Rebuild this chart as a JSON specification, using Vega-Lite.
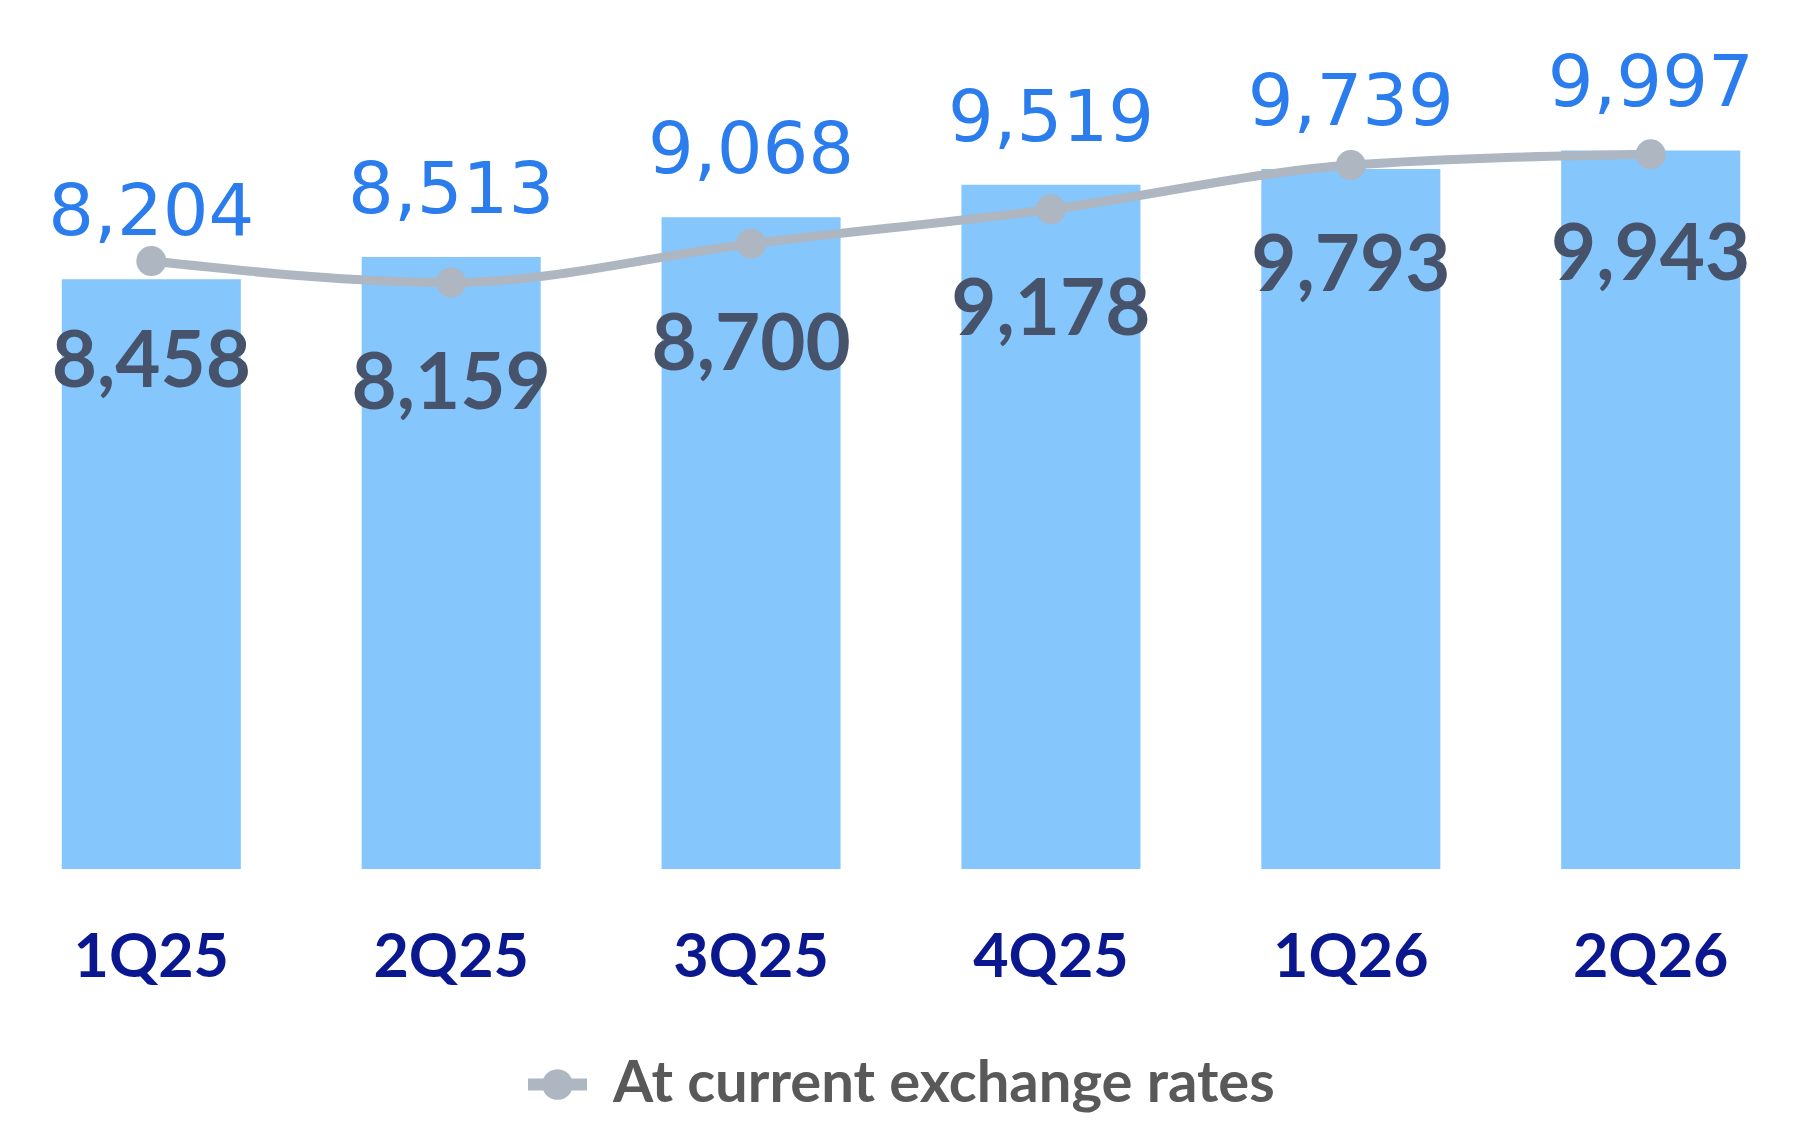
{
  "$schema": "https://vega.github.io/schema/vega-lite/v6.json",
  "width": 1778,
  "height": 869,
  "autosize": {"type": "none"},
  "padding": {"left": 12, "right": 10, "top": 0, "bottom": 259},
  "background": "white",
  "config": {"view": {"stroke": null}},
  "data": {
    "values": [
      {"quarter": "1Q25", "current": 8204, "constant": 8458},
      {"quarter": "2Q25", "current": 8513, "constant": 8159},
      {"quarter": "3Q25", "current": 9068, "constant": 8700},
      {"quarter": "4Q25", "current": 9519, "constant": 9178},
      {"quarter": "1Q26", "current": 9739, "constant": 9793},
      {"quarter": "2Q26", "current": 9997, "constant": 9943}
    ]
  },
  "encoding": {
    "x": {
      "field": "quarter",
      "type": "nominal",
      "sort": null,
      "scale": {"paddingInner": 0.403, "paddingOuter": 0.166},
      "axis": {
        "title": null,
        "domain": false,
        "ticks": false,
        "labelAngle": 0,
        "labelFont": "Lato",
        "labelFontWeight": "bold",
        "labelFontSize": 61,
        "labelColor": "#0b178f",
        "labelPadding": 59
      }
    }
  },
  "layer": [
    {
      "mark": {"type": "bar", "color": "#85c6fc"},
      "encoding": {
        "y": {"field": "current", "type": "quantitative", "scale": {"domain": [0, 12090], "nice": false}, "axis": null}
      }
    },
    {
      "mark": {"type": "text", "font": "DejaVu Sans", "fontSize": 72, "color": "#2b7ded", "baseline": "alphabetic", "dy": -44},
      "encoding": {
        "y": {"field": "current", "type": "quantitative", "scale": {"domain": [0, 12090], "nice": false}, "axis": null},
        "text": {"field": "current", "type": "quantitative", "format": ","}
      }
    },
    {
      "mark": {"type": "line", "color": "#adb6c1", "strokeWidth": 9, "interpolate": "monotone"},
      "encoding": {
        "y": {"field": "constant", "type": "quantitative", "scale": {"domain": [0, 12090], "nice": false}, "axis": null}
      }
    },
    {
      "mark": {"type": "point", "filled": true, "size": 900, "opacity": 1},
      "encoding": {
        "y": {"field": "constant", "type": "quantitative", "scale": {"domain": [0, 12090], "nice": false}, "axis": null},
        "color": {
          "datum": "At current exchange rates",
          "scale": {"range": ["#adb6c1"]},
          "legend": {
            "title": null,
            "orient": "none",
            "legendX": 516,
            "legendY": 1055,
            "symbolType": "M-1,-0.2L-0.48,-0.2A0.52,0.52 0 0,1 0.48,-0.2L1,-0.2L1,0.2L0.48,0.2A0.52,0.52 0 0,1 -0.48,0.2L-1,0.2Z",
            "symbolSize": 3481,
            "symbolStrokeWidth": 0,
            "symbolOpacity": 1,
            "labelFont": "Lato",
            "labelFontWeight": "bold",
            "labelFontSize": 58,
            "labelColor": "#595959",
            "labelLimit": 1000,
            "labelOffset": 26
          }
        }
      }
    },
    {
      "mark": {"type": "text", "font": "Lato", "fontWeight": "bold", "fontSize": 78, "color": "#46536b", "baseline": "alphabetic", "dy": 126},
      "encoding": {
        "y": {"field": "constant", "type": "quantitative", "scale": {"domain": [0, 12090], "nice": false}, "axis": null},
        "text": {"field": "constant", "type": "quantitative", "format": ","}
      }
    }
  ]
}
